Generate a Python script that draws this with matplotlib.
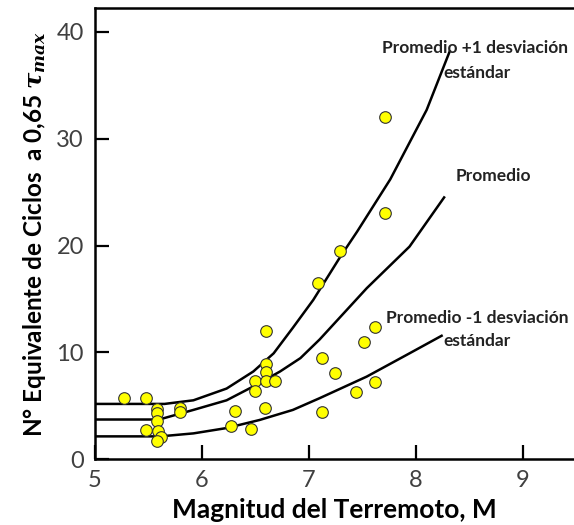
import matplotlib
matplotlib.use("Agg")
import matplotlib.pyplot as plt

plt.rcParams["font.family"] = ["Lato", "DejaVu Sans"]
plt.rcParams["mathtext.fontset"] = "custom"
plt.rcParams["mathtext.it"] = "DejaVu Serif:italic:bold"
plt.rcParams["mathtext.rm"] = "DejaVu Serif:bold"

# Datos observados: magnitud vs. numero equivalente de ciclos
mag_obs = [5.27, 5.48, 5.58, 5.58, 5.79, 5.79, 5.58, 5.48, 5.59, 5.62, 5.58,
           6.60, 6.60, 6.60, 6.50, 6.60, 6.68, 6.50, 6.31, 6.59, 6.27, 6.46,
           7.29, 7.08, 7.62, 7.51, 7.12, 7.24, 7.62, 7.44, 7.12,
           7.71, 7.71]
ciclos_obs = [5.75, 5.75, 4.66, 4.35, 4.8, 4.45, 3.56, 2.72, 2.66, 2.1, 1.69,
              12.0, 8.88, 8.13, 7.35, 7.35, 7.35, 6.4, 4.5, 4.75, 3.1, 2.78,
              19.45, 16.5, 12.4, 11.0, 9.45, 8.1, 7.25, 6.31, 4.44,
              32.0, 23.0]

# Curvas: promedio +1 desviacion, promedio, promedio -1 desviacion
mag_sup = [5.0, 5.65, 5.92, 6.23, 6.48, 6.67, 6.85, 7.04, 7.29, 7.45, 7.76, 8.10, 8.32]
ciclos_sup = [5.16, 5.16, 5.5, 6.6, 8.2, 9.9, 12.3, 14.9, 18.9, 21.3, 26.2, 32.7, 38.3]

mag_prom = [5.0, 5.6, 5.92, 6.23, 6.48, 6.73, 6.92, 7.10, 7.54, 7.94, 8.27]
ciclos_prom = [3.7, 3.7, 4.6, 5.5, 6.8, 8.2, 9.45, 11.2, 16.0, 19.9, 24.6]

mag_inf = [5.0, 5.61, 5.92, 6.23, 6.54, 6.85, 7.10, 7.54, 7.94, 8.25]
ciclos_inf = [2.12, 2.12, 2.4, 2.9, 3.66, 4.6, 5.7, 7.72, 9.9, 11.6]

x_ticks = [5, 6, 7, 8, 9]
y_ticks = [0, 10, 20, 30, 40]

fig = plt.figure(figsize=(5.74, 5.25), dpi=100)
ax = fig.add_axes([0.1655, 0.1257, 0.835, 0.8591])

for xs, ys in [(mag_sup, ciclos_sup), (mag_prom, ciclos_prom), (mag_inf, ciclos_inf)]:
    ax.plot(xs, ys, color="black", lw=1.8, solid_capstyle="butt", zorder=2)

ax.scatter(mag_obs, ciclos_obs, s=70, facecolor="#FFFF00", edgecolor="#333333",
           linewidth=0.8, zorder=3)

txt = dict(fontsize=12.5, fontweight="bold", color="#222222", va="center", ha="left")
ax.text(7.68, 38.46, "Promedio +1 desviación", **txt)
ax.text(8.26, 36.2, "estándar", **txt)
ax.text(8.37, 26.55, "Promedio", **txt)
ax.text(7.72, 13.2, "Promedio -1 desviación", **txt)
ax.text(8.26, 11.07, "estándar", **txt)

ax.set_xlim(5, 9.48)
ax.set_ylim(0, 42.25)
ax.set_xticks(x_ticks)
ax.set_yticks(y_ticks)
ax.tick_params(direction="in", length=10, width=1.6, labelsize=17,
               labelcolor="#404040", pad=8)

for side in ["left", "top", "bottom"]:
    ax.spines[side].set_linewidth(1.8)
ax.spines["right"].set_visible(False)

ax.set_xlabel("Magnitud del Terremoto, M", fontsize=19, fontweight="bold",
              labelpad=5)
ax.set_ylabel(r"N° Equivalente de Ciclos  a 0,65 $\tau_{max}$", fontsize=17.5,
              fontweight="bold", labelpad=6)

fig.savefig("out.png", dpi=100)
